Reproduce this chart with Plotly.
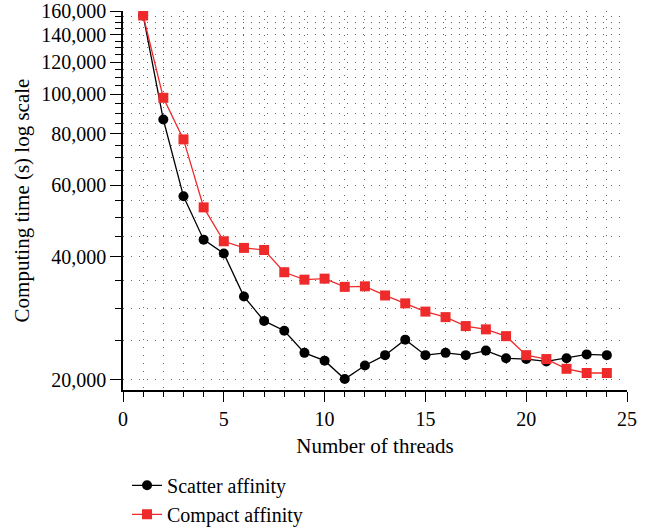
import plotly.graph_objects as go
import math

threads = list(range(1, 25))
scatter_affinity = [156000, 86800, 56300, 44100, 40800, 32000, 27900, 26400, 23300, 22300,
                    20100, 21700, 23000, 25100, 23000, 23300, 23000, 23600, 22600, 22500,
                    22200, 22600, 23100, 23000]
compact_affinity = [156000, 98100, 77600, 52900, 43700, 42100, 41600, 36700, 35200, 35400,
                    33800, 33900, 32200, 30800, 29400, 28500, 27100, 26600, 25600, 23000,
                    22500, 21300, 20800, 20800]

y_major = [20000, 40000, 60000, 80000, 100000, 120000, 140000, 160000]
y_major_text = ["20,000", "40,000", "60,000", "80,000", "100,000", "120,000", "140,000", "160,000"]
y_minor = list(range(20000, 160001, 5000))
x_major = [0, 5, 10, 15, 20, 25]

FONT = "Liberation Serif"
RED = "#EE2A2A"
GRID = "#666666"

fig = go.Figure()
fig.add_trace(go.Scatter(
    x=threads, y=scatter_affinity, mode="lines+markers", name="Scatter affinity",
    line=dict(color="black", width=1.3),
    marker=dict(symbol="circle", size=10, color="black"),
))
fig.add_trace(go.Scatter(
    x=threads, y=compact_affinity, mode="lines+markers", name="Compact affinity",
    line=dict(color=RED, width=1.3),
    marker=dict(symbol="square", size=10, color=RED),
))

grid_dash = "1px,7px"
fig.update_layout(
    width=654, height=529,
    margin=dict(l=123, r=27, t=11, b=139, autoexpand=False),
    paper_bgcolor="white", plot_bgcolor="white",
    font=dict(family=FONT, size=20, color="black"),
    showlegend=True,
    legend=dict(x=0.008, y=-0.2, xanchor="left", yanchor="top",
                font=dict(family=FONT, size=20), bgcolor="rgba(0,0,0,0)",
                tracegroupgap=0),
    xaxis=dict(
        range=[0, 25], tickvals=x_major, ticks="outside", ticklen=10, tickwidth=1.3,
        tickcolor="black", showline=True, linecolor="black", linewidth=1.5,
        zeroline=False, showgrid=True, gridcolor=GRID, griddash=grid_dash, gridwidth=1,
        tickfont=dict(family=FONT, size=20), automargin=False,
        title=dict(text="Number of threads", font=dict(family=FONT, size=21), standoff=10),
        minor=dict(dtick=1, tick0=0, ticks="outside", ticklen=5, tickwidth=1.2,
                   tickcolor="black", showgrid=True, gridcolor=GRID,
                   griddash=grid_dash, gridwidth=1),
    ),
    yaxis=dict(
        type="log", range=[math.log10(18900), math.log10(160000)],
        tickvals=y_major, ticktext=y_major_text, ticks="outside", ticklen=11, tickwidth=1.3,
        tickcolor="black", showline=True, linecolor="black", linewidth=1.5,
        zeroline=False, showgrid=True, gridcolor=GRID, griddash=grid_dash, gridwidth=1,
        tickfont=dict(family=FONT, size=20), automargin=False,
        title=dict(text="Computing time (s) log scale", font=dict(family=FONT, size=21), standoff=6),
        minor=dict(tickvals=y_minor, ticks="outside", ticklen=6, tickwidth=1.2,
                   tickcolor="black", showgrid=True, gridcolor=GRID,
                   griddash=grid_dash, gridwidth=1),
    ),
)

fig.write_html("out.html")
